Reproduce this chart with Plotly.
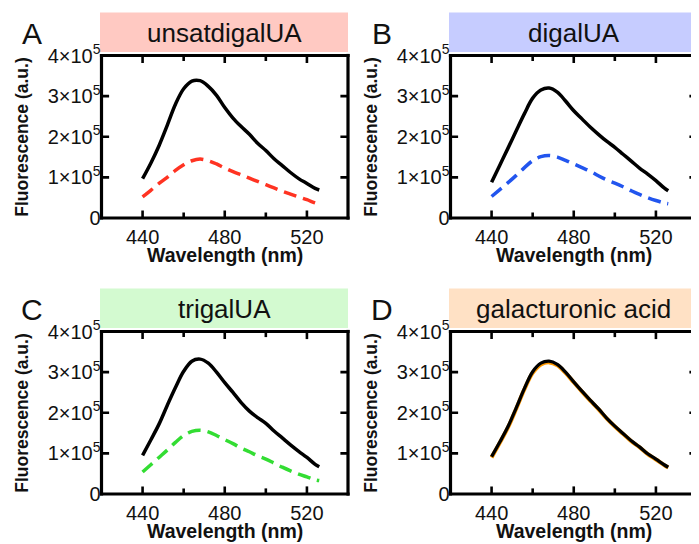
import plotly.graph_objects as go

W, H = 691, 536
OFF = 8  # browser body margin

wavelength = [440, 444, 448, 452, 456, 460, 464, 468, 472, 476, 480, 484,
              488, 492, 496, 500, 504, 508, 512, 516, 520, 524, 526]

# values in units of 1e5 a.u.
ctrl_A = [0.97, 1.35, 1.78, 2.28, 2.80, 3.18, 3.37, 3.38, 3.24, 3.02, 2.72, 2.46,
          2.25, 2.06, 1.84, 1.66, 1.46, 1.29, 1.12, 0.97, 0.85, 0.73, 0.69]
unsat_A = [0.52, 0.68, 0.85, 1.00, 1.17, 1.31, 1.41, 1.45, 1.41, 1.33, 1.23, 1.14,
           1.06, 0.98, 0.90, 0.82, 0.74, 0.66, 0.59, 0.52, 0.45, 0.37, 0.34]
ctrl_B = [0.88, 1.30, 1.72, 2.15, 2.57, 2.95, 3.15, 3.20, 3.10, 2.88, 2.64, 2.44,
          2.24, 2.06, 1.89, 1.74, 1.57, 1.40, 1.23, 1.08, 0.92, 0.74, 0.67]
digal_B = [0.53, 0.70, 0.87, 1.05, 1.24, 1.41, 1.51, 1.54, 1.50, 1.42, 1.33, 1.24,
           1.15, 1.04, 0.94, 0.86, 0.77, 0.67, 0.58, 0.50, 0.43, 0.37, 0.35]
ctrl_C = [0.95, 1.33, 1.72, 2.18, 2.62, 3.02, 3.27, 3.32, 3.22, 3.00, 2.74, 2.50,
          2.25, 2.04, 1.88, 1.74, 1.55, 1.38, 1.21, 1.05, 0.90, 0.73, 0.67]
trigal_C = [0.54, 0.72, 0.90, 1.08, 1.27, 1.44, 1.54, 1.57, 1.53, 1.44, 1.34, 1.24,
            1.13, 1.04, 0.94, 0.86, 0.76, 0.66, 0.57, 0.49, 0.42, 0.35, 0.33]
ctrl_D = [0.92, 1.28, 1.66, 2.12, 2.60, 3.01, 3.22, 3.27, 3.19, 3.00, 2.76, 2.53,
          2.31, 2.10, 1.87, 1.67, 1.49, 1.31, 1.16, 0.99, 0.86, 0.72, 0.66]
galA_D = [0.90, 1.26, 1.64, 2.10, 2.58, 2.98, 3.19, 3.24, 3.17, 2.98, 2.75, 2.52,
          2.30, 2.09, 1.86, 1.66, 1.48, 1.30, 1.15, 0.98, 0.85, 0.71, 0.65]

panel_letters = ["A", "B", "C", "D"]
panel_titles = ["unsatdigalUA", "digalUA", "trigalUA", "galacturonic acid"]
strip_colors = ["#FFC9C2", "#C6CCFF", "#D3FAD0", "#FFE1C5"]
sample_colors = ["#FF3322", "#2255EE", "#33DD33", "#FF9900"]
samples = [unsat_A, digal_B, trigal_C, galA_D]
controls = [ctrl_A, ctrl_B, ctrl_C, ctrl_D]

y_tickvals = [0, 1, 2, 3, 4]
y_ticktext = ["0", "1×10<sup>5</sup>", "2×10<sup>5</sup>", "3×10<sup>5</sup>", "4×10<sup>5</sup>"]
x_tickvals = [440, 480, 520]
x_minor_tickvals = [460, 500]
x_range = [420, 540]
y_range = [0, 4]

FONT = "Liberation Sans, Arial, sans-serif"

# pixel boxes in screenshot coordinates (left, right, top, bottom)
boxes = [(101.5, 348.0, 55.5, 218.0), (450.5, 697.0, 55.5, 218.0),
         (101.5, 348.0, 331.5, 494.0), (450.5, 697.0, 331.5, 494.0)]


def px(x):
    return (x - OFF) / W


def py(y):
    return 1 - (y - OFF) / H


fig = go.Figure()
layout = dict(width=W, height=H, autosize=False,
              margin=dict(l=0, r=0, t=0, b=0, pad=0, autoexpand=False),
              paper_bgcolor="white", plot_bgcolor="rgba(0,0,0,0)", showlegend=False,
              font=dict(family=FONT, color="black"))
shapes = []
annotations = []

MAJ_PX, MIN_PX, TW, FW = 6, 4, 2.6, 3.2


def band(x0, x1, y0, y1):
    # filled black band in screen pixels (frame side)
    return dict(type="rect", xref="paper", yref="paper",
                x0=px(x0), x1=px(x1), y0=py(y1), y1=py(y0),
                fillcolor="black", line=dict(width=0), layer="below")


for i in range(4):
    l, r, t, b = boxes[i]
    xa = "x" if i == 0 else f"x{i+1}"
    ya = "y" if i == 0 else f"y{i+1}"
    xkey = "xaxis" if i == 0 else f"xaxis{i+1}"
    ykey = "yaxis" if i == 0 else f"yaxis{i+1}"
    if i == 3:
        fig.add_trace(go.Scatter(x=wavelength, y=samples[i], xaxis=xa, yaxis=ya, mode="lines",
                                 line=dict(color=sample_colors[i], width=4, shape="spline")))
        fig.add_trace(go.Scatter(x=wavelength, y=controls[i], xaxis=xa, yaxis=ya, mode="lines",
                                 line=dict(color="black", width=3.3, shape="spline")))
    else:
        fig.add_trace(go.Scatter(x=wavelength, y=controls[i], xaxis=xa, yaxis=ya, mode="lines",
                                 line=dict(color="black", width=3.5, shape="spline")))
        fig.add_trace(go.Scatter(x=wavelength, y=samples[i], xaxis=xa, yaxis=ya, mode="lines",
                                 line=dict(color=sample_colors[i], width=3.5, shape="spline",
                                           dash="13px,7px")))

    layout[xkey] = dict(domain=[px(l), px(r)], range=x_range, anchor=ya,
                        tickmode="array", tickvals=x_tickvals, ticks="", showline=False,
                        showgrid=False, zeroline=False, ticklabelstandoff=5,
                        tickfont=dict(size=20, family=FONT, color="#111"))
    layout[ykey] = dict(domain=[py(b), py(t)], range=y_range, anchor=xa,
                        tickmode="array", tickvals=y_tickvals, ticktext=y_ticktext,
                        ticks="", showline=False, showgrid=False, zeroline=False,
                        tickfont=dict(size=20, family=FONT, color="#111"))

    # frame as four filled bands
    h = FW / 2
    shapes.append(band(l - h, r + h, b - h, b + h))
    shapes.append(band(l - h, r + h, t - h, t + h))
    shapes.append(band(l - h, l + h, t - h, b + h))
    shapes.append(band(r - h, r + h, t - h, b + h))

    xd = f"{xa} domain"
    yd = f"{ya} domain"
    # inside x ticks (bottom and top) as filled thin rectangles on the x scale
    for vals, ln in ((x_tickvals, MAJ_PX), (x_minor_tickvals, MIN_PX)):
        for v in vals:
            shapes.append(dict(type="rect", xref=xa, yref=yd,
                               xsizemode="pixel", xanchor=v, x0=-TW / 2, x1=TW / 2,
                               ysizemode="pixel", yanchor=0, y0=0, y1=ln + h,
                               fillcolor="black", line=dict(width=0), layer="below"))
            shapes.append(dict(type="rect", xref=xa, yref=yd,
                               xsizemode="pixel", xanchor=v, x0=-TW / 2, x1=TW / 2,
                               ysizemode="pixel", yanchor=1, y0=0, y1=-(ln + h),
                               fillcolor="black", line=dict(width=0), layer="below"))
    # inside y ticks (left and right) on the y scale
    for v in y_tickvals[1:-1]:
        shapes.append(dict(type="rect", xref=xd, yref=ya,
                           xsizemode="pixel", xanchor=0, x0=0, x1=MAJ_PX + h,
                           ysizemode="pixel", yanchor=v, y0=-TW / 2, y1=TW / 2,
                           fillcolor="black", line=dict(width=0), layer="below"))
        shapes.append(dict(type="rect", xref=xd, yref=ya,
                           xsizemode="pixel", xanchor=1, x0=0, x1=-(MAJ_PX + h),
                           ysizemode="pixel", yanchor=v, y0=-TW / 2, y1=TW / 2,
                           fillcolor="black", line=dict(width=0), layer="below"))

    # title strip
    shapes.append(dict(type="rect", xref="paper", yref="paper",
                       x0=px(l - 1.5), x1=px(r), y0=py(t - 3.5), y1=py(t - 43),
                       fillcolor=strip_colors[i], line=dict(width=0), layer="below"))
    annotations.append(dict(text=panel_titles[i], xref="paper", yref="paper",
                            x=px((l + r) / 2), y=py(t - 23), showarrow=False,
                            xanchor="center", yanchor="middle",
                            font=dict(size=26, family=FONT, color="#111")))
    annotations.append(dict(text=panel_letters[i], xref="paper", yref="paper",
                            x=px(l - 69), y=py(t - 22.5), showarrow=False,
                            xanchor="center", yanchor="middle",
                            font=dict(size=30, family=FONT, color="#111")))
    annotations.append(dict(text="<b>Wavelength (nm)</b>", xref="paper", yref="paper",
                            x=px((l + r) / 2), y=py(b + 37), showarrow=False,
                            xanchor="center", yanchor="middle",
                            font=dict(size=19.5, family=FONT, color="#111")))
    annotations.append(dict(text="<b>Fluorescence (a.u.)</b>", xref="paper", yref="paper",
                            x=px(l - 79.5), y=py((t + b) / 2), showarrow=False,
                            xanchor="center", yanchor="middle", textangle=-90,
                            font=dict(size=17.5, family=FONT, color="#111")))

layout["shapes"] = shapes
layout["annotations"] = annotations
fig.update_layout(**layout)
fig.write_html("out.html")
